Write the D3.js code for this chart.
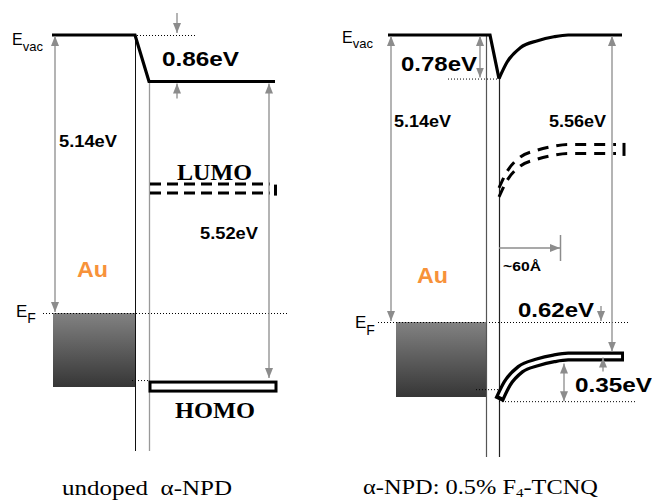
<!DOCTYPE html>
<html>
<head>
<meta charset="utf-8">
<script src="https://cdn.jsdelivr.net/npm/d3@7"></script>
<style>
body { margin: 0; background: #fff; }
</style>
</head>
<body>
<div id="diagram"></div>
<script>
// Energies in eV, measured from the vacuum level of Au (E_vac = 0)
var panelLabels = ["undoped  α-NPD", "α-NPD: 0.5% F", "4", "-TCNQ"];
var workFunction = [5.14, 5.14];        // Au: E_vac -> E_F
var vacuumShift = [0.86, 0.78];         // drop of E_vac at the interface
var ionization = [5.52, 5.56];          // E_vac -> HOMO in the film
var lumoBelowVac = [1.98, 2.04];        // no label
var homoBelowEF = [1.24, 0.62];         // bulk HOMO under E_F
var shiftLabels = ["0.86eV", "0.78eV"];
var wfLabels = ["5.14eV", "5.14eV"];
var ieLabels = ["5.52eV", "5.56eV"];
var holeLabel = "0.62eV";
var bendingLabel = "0.35eV";
var widthLabel = "~60Å";
// band bending in the doped film: distance from interface (Å), part of the shift left
var bendDist = [0, 8, 21, 38, 54, 68];
var bendFrac = [1, 0.62, 0.29, 0.13, 0.04, 0];
var depletionWidth = 60;

var grey = "#8c8c8c";
var sans = "'Liberation Sans', Arial, sans-serif";
var serif = "'Liberation Serif', 'Times New Roman', serif";

var svg = d3.select("#diagram").append("svg")
    .attr("width", 652)
    .attr("height", 501);

var defs = svg.append("defs");
defs.append("marker")
    .attr("id", "head")
    .attr("viewBox", "0 0 10 10")
    .attr("preserveAspectRatio", "none")
    .attr("refX", 10).attr("refY", 5)
    .attr("markerUnits", "userSpaceOnUse")
    .attr("markerWidth", 10).attr("markerHeight", 8)
    .attr("orient", "auto-start-reverse")
  .append("path")
    .attr("d", "M0,0L10,5L0,10z")
    .attr("fill", grey);

var sea = defs.append("linearGradient")
    .attr("id", "sea")
    .attr("x1", 0).attr("y1", 0).attr("x2", 0).attr("y2", 1);
sea.append("stop").attr("offset", 0).attr("stop-color", "#828282");
sea.append("stop").attr("offset", 1).attr("stop-color", "#363636");

// ---- helpers ----
function line(g, x1, y1, x2, y2, color, w) {
    return g.append("line")
        .attr("x1", x1).attr("y1", y1)
        .attr("x2", x2).attr("y2", y2)
        .attr("stroke", color)
        .attr("stroke-width", w);
}

function dotted(g, x1, x2, yy) {
    line(g, x1, yy, x2, yy, "#000", 1).attr("stroke-dasharray", "1,2");
}

function arrow(g, x1, y1, x2, y2, both) {
    var a = line(g, x1, y1, x2, y2, grey, 1.3).attr("marker-end", "url(#head)");
    if (both) a.attr("marker-start", "url(#head)");
    return a;
}

function label(g, x, y, str, size, width, family, weight) {
    return g.append("text")
        .attr("x", x).attr("y", y)
        .attr("font-family", family || sans)
        .attr("font-weight", weight || "bold")
        .attr("font-size", size)
        .attr("textLength", width)
        .attr("lengthAdjust", "spacingAndGlyphs")
        .style("white-space", "pre")
        .text(str);
}

function withSub(g, x, y, main, sub, size, subSize, dy) {
    var t = g.append("text")
        .attr("x", x).attr("y", y)
        .attr("font-family", sans)
        .attr("font-size", size)
        .text(main);
    t.append("tspan").attr("dy", dy).attr("font-size", subSize).text(sub);
}

// ---- undoped alpha-NPD ----
function drawUndoped() {
    var g = svg.append("g");
    var ef = -workFunction[0];
    var vacOrg = -vacuumShift[0];
    var lumo = vacOrg - lumoBelowVac[0];
    var homo = vacOrg - ionization[0];
    var y = d3.scaleLinear().domain([0, ef]).range([35, 313]);

    // Au Fermi sea
    g.append("rect")
        .attr("x", 53).attr("y", y(ef))
        .attr("width", 83).attr("height", 74)
        .attr("fill", "url(#sea)");
    dotted(g, 43, 287, y(ef) + 0.5);
    dotted(g, 132, 149, y(homo) + 0.5);

    // interface
    line(g, 135.5, y(0), 135.5, 451, "#111", 1);
    line(g, 149.5, y(vacOrg), 149.5, 451, "#999", 1.3);

    // vacuum level
    g.append("path")
        .attr("d", d3.line()([[52, y(0)], [135, y(0)], [149, y(vacOrg)], [275, y(vacOrg)]]))
        .attr("fill", "none").attr("stroke", "#000").attr("stroke-width", 3.2);
    dotted(g, 137, 197, y(0) + 0.5);
    arrow(g, 177, 13, 177, y(0) - 2);
    arrow(g, 177, y(vacOrg) + 17, 177, y(vacOrg) + 2);
    label(g, 162, 66, shiftLabels[0], 21, 77);

    // LUMO
    [-4.5, 4.5].forEach(function(o) {
        line(g, 150, y(lumo) + o, 270, y(lumo) + o, "#000", 3).attr("stroke-dasharray", "11,6");
    });
    line(g, 275.5, y(lumo) - 4, 275.5, y(lumo) + 7, "#000", 3);
    label(g, 177, 180, "LUMO", 24, 75, serif);

    // HOMO
    g.append("rect")
        .attr("x", 150).attr("y", y(homo) + 2)
        .attr("width", 126).attr("height", 9)
        .attr("fill", "#fff").attr("stroke", "#000").attr("stroke-width", 3);
    label(g, 175, 418, "HOMO", 24, 80, serif);

    // energy arrows
    arrow(g, 55, y(0) + 1, 55, y(ef) - 1, true);
    label(g, 59, 147, wfLabels[0], 16, 58);
    arrow(g, 269, y(vacOrg) + 2, 269, y(homo) - 2, true);
    label(g, 200, 239, ieLabels[0], 16, 58);

    label(g, 77, 277, "Au", 22, 31).attr("fill", "#f7923a");
    withSub(g, 12, 45, "E", "vac", 16, 13, 6);
    withSub(g, 16, 317, "E", "F", 17, 14, 6);

    label(g, 62, 495, panelLabels[0], 21, 170, serif, "normal");
}

// ---- alpha-NPD doped with F4-TCNQ ----
function drawDoped() {
    var g = svg.append("g");
    var ef = -workFunction[1];
    var shift = vacuumShift[1];
    var lumoBulk = -lumoBelowVac[1];
    var homoBulk = ef - homoBelowEF[1];
    var y = d3.scaleLinear().domain([0, ef]).range([35, 322]);
    // distance into the film in Å
    var x = d3.scaleLinear().domain([0, depletionWidth]).range([499, 560]);

    // a band that bends by the vacuum shift near the interface
    function band(level, xEnd) {
        var pts = bendDist.map(function(d, i) {
            return [x(d), y(level - shift * bendFrac[i])];
        });
        pts.push([xEnd, y(level)]);
        return d3.line().curve(d3.curveMonotoneX)(pts);
    }

    // Au Fermi sea
    g.append("rect")
        .attr("x", 396).attr("y", y(ef))
        .attr("width", 91).attr("height", 75)
        .attr("fill", "url(#sea)");
    dotted(g, 378, 628, y(ef) + 0.5);

    // interface
    line(g, 486.5, y(0), 486.5, 457, "#555", 1.2);
    line(g, 499.5, y(-shift), 499.5, 457, "#222", 1.2);

    // vacuum level
    g.append("path")
        .attr("d", d3.line()([[388, y(0)], [490, y(0)], [499, y(-shift)]]))
        .attr("fill", "none").attr("stroke", "#000").attr("stroke-width", 3.2)
        .attr("stroke-linejoin", "miter");
    g.append("path")
        .attr("d", band(0, 622))
        .attr("fill", "none").attr("stroke", "#000").attr("stroke-width", 3.2);
    dotted(g, 448, 499, y(-shift) + 0.5);
    arrow(g, 480, y(0) + 1, 480, y(-shift) - 1, true);
    label(g, 401, 71, shiftLabels[1], 21, 76);

    // LUMO
    [-4.5, 4.5].forEach(function(o) {
        g.append("path")
            .attr("d", band(lumoBulk, 616))
            .attr("transform", "translate(0," + o + ")")
            .attr("fill", "none").attr("stroke", "#000").attr("stroke-width", 3)
            .attr("stroke-dasharray", "11,8");
    });
    line(g, 624, y(lumoBulk) - 6, 624, y(lumoBulk) + 7, "#000", 3);

    // HOMO, drawn as a black band with a white core
    var outer = g.append("path")
        .attr("d", band(homoBulk, 624))
        .attr("fill", "none").attr("stroke", "#000").attr("stroke-width", 10);
    var len = outer.node().getTotalLength();
    g.append("path")
        .attr("d", band(homoBulk, 624))
        .attr("fill", "none").attr("stroke", "#fff").attr("stroke-width", 3.5)
        .attr("stroke-dasharray", "0,4," + (len - 7) + ",100");
    var homoIf = homoBulk - shift;
    dotted(g, 499, 635, y(homoIf) + 1.5);
    dotted(g, 476, 499, y(homoIf) - 10.5);

    // energy arrows
    arrow(g, 391, y(0) + 1, 391, y(ef) - 1, true);
    label(g, 394, 127, wfLabels[1], 16, 57);
    arrow(g, 612, y(0) + 1, 612, y(homoBulk) - 5, true);
    label(g, 549, 127, ieLabels[1], 16, 57);

    arrow(g, 601, y(ef) - 16, 601, y(ef) - 1);
    arrow(g, 603, y(homoBulk) + 15, 603, y(homoBulk) + 1);
    label(g, 518, 317, holeLabel, 21, 76);

    arrow(g, 564, y(homoBulk) + 7, 564, y(homoIf) + 1, true);
    label(g, 575, 392, bendingLabel, 21, 77);

    // width of the bent region
    arrow(g, x(0), 248, x(depletionWidth), 248);
    line(g, x(depletionWidth) + 0.5, 235, x(depletionWidth) + 0.5, 261, grey, 1.5);
    label(g, 503, 271, widthLabel, 13, 38);

    label(g, 417, 283, "Au", 22, 31).attr("fill", "#f7923a");
    withSub(g, 342, 43, "E", "vac", 16, 13, 5);
    withSub(g, 355, 328, "E", "F", 17, 14, 7);

    var t = label(g, 363, 494, panelLabels[1], 21, 235, serif, "normal");
    t.append("tspan").attr("dy", 3).attr("font-size", 13).text(panelLabels[2]);
    t.append("tspan").attr("dy", -3).text(panelLabels[3]);
}

drawUndoped();
drawDoped();
</script>
</body>
</html>
